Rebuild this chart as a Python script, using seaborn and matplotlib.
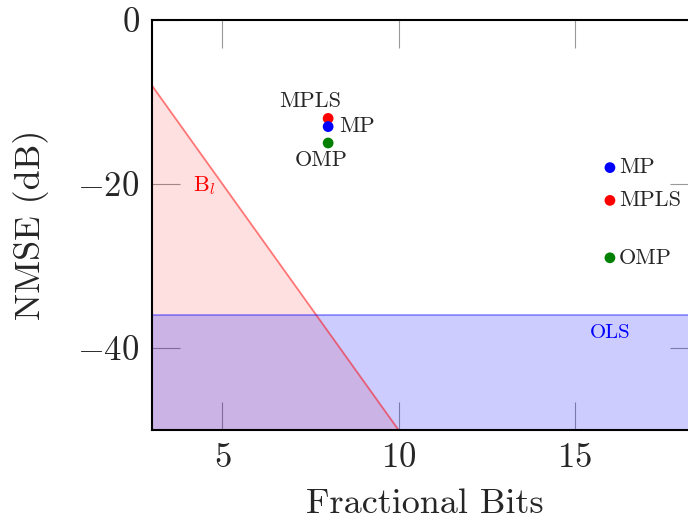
import matplotlib
matplotlib.use("Agg")
import matplotlib.pyplot as plt
import seaborn as sns
import pandas as pd

# data
bl_x = [3, 10]
bl_y = [-8, -50]
ols_level = -36

pts_x = [8, 8, 8, 16, 16, 16]
pts_y = [-12, -13, -15, -18, -22, -29]
pts_alg = ['MPLS', 'MP', 'OMP', 'MP', 'MPLS', 'OMP']

colors = {'MP': 'blue', 'MPLS': 'red', 'OMP': 'green'}

sns.set_style("ticks", {"xtick.direction": "in", "ytick.direction": "in"})
plt.rcParams['font.family'] = ['cmr10', 'DejaVu Serif']
plt.rcParams['mathtext.fontset'] = 'cm'
plt.rcParams['axes.formatter.use_mathtext'] = True
plt.rcParams['axes.unicode_minus'] = True

fig = plt.figure(figsize=(6.88, 5.20), dpi=100)
ax = fig.add_axes([152/688, 90/520, 546/688, 410/520])

# B_l region
ax.fill_between(bl_x, bl_y, -50, color='red', alpha=0.12, lw=0)
sns.lineplot(x=bl_x, y=bl_y, ax=ax, color='red', alpha=0.5, lw=1.3)

# OLS region
ax.axhspan(-50, ols_level, color='blue', alpha=0.2, lw=0)
ax.axhline(ols_level, color='blue', alpha=0.4, lw=1.3)

df = pd.DataFrame({'x': pts_x, 'y': pts_y, 'alg': pts_alg})
sns.scatterplot(data=df, x='x', y='y', hue='alg', palette=colors, ax=ax,
                s=60, edgecolor='none', legend=False, zorder=5)

# point labels
ax.text(8 - 0.5, -12 + 0.9, 'MPLS', fontsize=16, ha='center', va='bottom')
ax.text(8 + 0.3, -13, 'MP', fontsize=16, ha='left', va='center')
ax.text(8 - 0.2, -15 - 0.9, 'OMP', fontsize=16, ha='center', va='top')
for xv, yv, lab in zip(pts_x[3:], pts_y[3:], pts_alg[3:]):
    ax.text(xv + 0.25, yv, lab, fontsize=16, ha='left', va='center')

ax.text(4.5, -20.2, r'B$_l$', color='red', fontsize=16, ha='center', va='center')
ax.text(16, -38.2, 'OLS', color='blue', fontsize=15, ha='center', va='center')

ax.set_xlim(3, 18.5)
ax.set_ylim(-50, 0)
ax.set_xticks([5, 10, 15])
ax.set_yticks([-40, -20, 0])
ax.tick_params(axis='both', which='both', direction='in', length=20, width=0.8,
               color='#999999', labelsize=25, top=True, right=True, pad=9)
for sp in ax.spines.values():
    sp.set_color('black')
    sp.set_linewidth(1.5)

ax.set_xlabel('Fractional Bits', fontsize=26, labelpad=10)
ax.set_ylabel('NMSE (dB)', fontsize=26, labelpad=20)

fig.savefig('out.png', dpi=100)
